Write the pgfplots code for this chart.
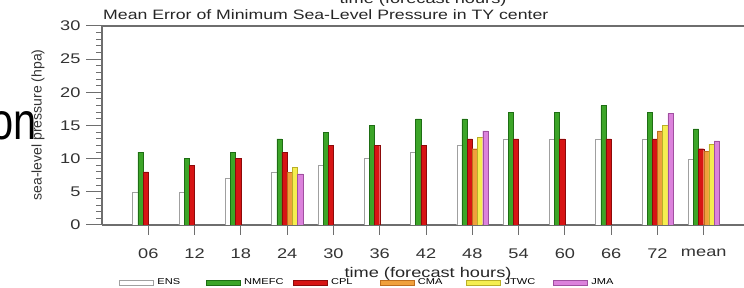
\documentclass[border=0pt]{standalone}
\usepackage{pgfplots}
\pgfplotsset{compat=1.18}
\usepackage{fontspec}
\setmainfont{Liberation Sans}[FakeStretch=1.3]
\newfontfamily\plainsans{Liberation Sans}
\newfontfamily\onfont{Liberation Sans}[FakeStretch=0.8]
\definecolor{axgray}{RGB}{110,110,110}
\definecolor{ensdraw}{RGB}{160,160,160}
\definecolor{nmefc}{RGB}{60,165,40}
\definecolor{nmefcd}{RGB}{30,110,20}
\definecolor{cpl}{RGB}{215,20,20}
\definecolor{cpld}{RGB}{140,10,10}
\definecolor{cma}{RGB}{240,160,60}
\definecolor{cmad}{RGB}{190,110,30}
\definecolor{jtwc}{RGB}{245,238,80}
\definecolor{jtwcd}{RGB}{185,175,40}
\definecolor{jma}{RGB}{220,130,220}
\definecolor{jmad}{RGB}{160,80,160}
\begin{document}
\begin{tikzpicture}[x=1pt,y=1pt]
\useasboundingbox (0pt,0pt) rectangle (744pt,288pt);
\clip (0pt,0pt) rectangle (744pt,288pt);
\begin{axis}[
  at={(102pt,63pt)}, anchor=origin, scale only axis,
  width=642pt, height=199pt,
  xmin=0, xmax=13.87, ymin=0, ymax=30,
  axis y line*=left,
  y axis line style={-},
  axis line style={axgray, line width=1.1pt},
  ybar=0pt, bar width=5.2pt,
  xtick={1,...,13},
  xticklabels={06,12,18,24,30,36,42,48,54,60,66,72,mean},
  xtick pos=bottom,
  ytick={0,5,...,30},
  minor y tick num=4,
  tick align=outside,
  major tick length=16pt,
  minor tick length=6pt,
  tick style={axgray, line width=1pt},
  xtick style={/pgfplots/major tick length=10pt},
  /pgf/number format/assume math mode=true,
  tick label style={font=\fontsize{14}{14}\selectfont, text=black!80},
  xticklabel style={yshift=-4pt},
  yticklabel style={xshift=-2pt},
  legend style={at={(0.0265,-0.29)}, anchor=west, draw=none, fill=none,
    legend columns=6, font=\fontsize{8.5}{9}\selectfont, inner sep=0pt,
    /tikz/every even column/.append style={column sep=0pt}},
  legend image code/.code={\draw[#1, line width=0.8pt] (0pt,-2.2pt) rectangle (34pt,2.2pt);},
]
\addplot[fill=white, draw=ensdraw] coordinates {(1,5)(2,5)(3,7)(4,8)(5,9)(6,10)(7,11)(8,12)(9,13)(10,13)(11,13)(12,12.9)(13,9.9)};
\addplot[fill=nmefc, draw=nmefcd] coordinates {(1,11)(2,10)(3,11)(4,13)(5,14)(6,15)(7,16)(8,16)(9,17)(10,17)(11,18)(12,17)(13,14.5)};
\addplot[fill=cpl, draw=cpld] coordinates {(1,8)(2,9)(3,10)(4,11)(5,12)(6,12)(7,12)(8,13)(9,13)(10,13)(11,13)(12,13)(13,11.5)};
\addplot[fill=cma, draw=cmad] coordinates {(4,7.9)(8,11.5)(12,14.2)(13,11.1)};
\addplot[fill=jtwc, draw=jtwcd] coordinates {(4,8.7)(8,13.2)(12,15)(13,12.2)};
\addplot[fill=jma, draw=jmad] coordinates {(4,7.7)(8,14.2)(12,16.8)(13,12.7)};
\legend{\makebox[48pt][l]{\,ENS},\makebox[48pt][l]{\,NMEFC},\makebox[48pt][l]{\,CPL},\makebox[48pt][l]{\,CMA},\makebox[48pt][l]{\,JTWC},\makebox[48pt][l]{\,JMA}}
\end{axis}
\node[anchor=base west, font=\fontsize{13.6}{14}\selectfont, text=black!85, inner sep=0pt] at (103pt,268pt) {Mean Error of Minimum Sea-Level Pressure in TY center};
\node[anchor=base, font=\fontsize{14}{14}\selectfont, text=black!85, inner sep=0pt] at (428pt,10.5pt) {time (forecast hours)};
\node[anchor=base, font=\fontsize{14}{14}\selectfont, text=black!85] at (423pt,284pt) {time (forecast hours)};
\node[rotate=90, font=\plainsans\fontsize{14}{14}\selectfont, text=black!80] at (38pt,163pt) {sea-level pressure (hpa)};
\node[anchor=base east, font=\onfont\fontsize{52}{52}\selectfont, inner sep=0pt] at (37pt,148pt) {on};
\end{tikzpicture}
\end{document}
